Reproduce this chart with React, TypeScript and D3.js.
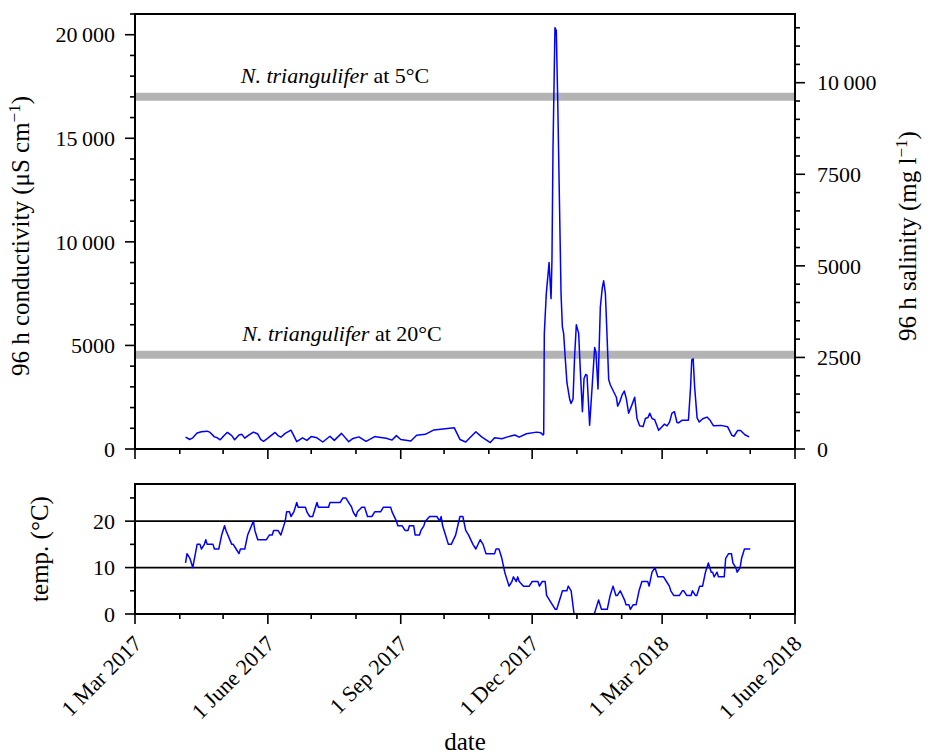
import React from "react";
import * as d3 from "d3";

// ---- data ----
const condData: [string, number][] = [
  ["2017-04-05", 570], ["2017-04-08", 460], ["2017-04-10", 540], ["2017-04-13", 770],
  ["2017-04-16", 830], ["2017-04-20", 860], ["2017-04-22", 800], ["2017-04-25", 585],
  ["2017-04-27", 540], ["2017-04-29", 446], ["2017-05-02", 677], ["2017-05-04", 800],
  ["2017-05-07", 646], ["2017-05-09", 446], ["2017-05-12", 677], ["2017-05-14", 708],
  ["2017-05-16", 523], ["2017-05-19", 677], ["2017-05-22", 815], ["2017-05-25", 723],
  ["2017-05-27", 461], ["2017-05-29", 370], ["2017-06-01", 523], ["2017-06-06", 800],
  ["2017-06-08", 646], ["2017-06-10", 570], ["2017-06-13", 754], ["2017-06-17", 908],
  ["2017-06-21", 354], ["2017-06-25", 538], ["2017-06-28", 415], ["2017-07-01", 600],
  ["2017-07-05", 538], ["2017-07-09", 338], ["2017-07-14", 615], ["2017-07-17", 415],
  ["2017-07-22", 754], ["2017-07-27", 354], ["2017-07-30", 508], ["2017-08-03", 585],
  ["2017-08-08", 370], ["2017-08-14", 600], ["2017-08-17", 570], ["2017-08-22", 523],
  ["2017-08-26", 430], ["2017-08-29", 646], ["2017-09-01", 461], ["2017-09-08", 385],
  ["2017-09-12", 661], ["2017-09-18", 708], ["2017-09-24", 923], ["2017-10-08", 1030],
  ["2017-10-12", 461], ["2017-10-16", 338], ["2017-10-23", 830], ["2017-10-27", 585],
  ["2017-11-02", 308], ["2017-11-05", 538], ["2017-11-10", 492], ["2017-11-14", 585],
  ["2017-11-19", 677], ["2017-11-22", 570], ["2017-11-27", 738], ["2017-12-04", 815],
  ["2017-12-07", 780], ["2017-12-08T12", 680], ["2017-12-09T00", 720],
  ["2017-12-09T10", 5580], ["2017-12-10T19", 7500], ["2017-12-12T17", 9000],
  ["2017-12-14T02", 7260], ["2017-12-14T17", 9100], ["2017-12-15T10", 14400],
  ["2017-12-16T19", 20340], ["2017-12-17T17", 20200], ["2017-12-18T17", 16800],
  ["2017-12-20T02", 11200], ["2017-12-21T00", 7500], ["2017-12-21T22", 5900],
  ["2017-12-22T19", 5580], ["2017-12-24T00", 4300], ["2017-12-25T02", 3200],
  ["2017-12-27T00", 2400], ["2017-12-27T22", 2200], ["2017-12-29T07", 2400],
  ["2017-12-30T10", 4500], ["2017-12-31T14", 6000], ["2018-01-02T05", 5580],
  ["2018-01-03T10", 3700], ["2018-01-04T19", 1800], ["2018-01-05T22", 3400],
  ["2018-01-07T02", 3600], ["2018-01-08T00", 3550], ["2018-01-09T19", 1150],
  ["2018-01-11T17", 3200], ["2018-01-13T07", 4900], ["2018-01-14T05", 4650],
  ["2018-01-15T14", 2900], ["2018-01-17T05", 6850], ["2018-01-18T14", 7800],
  ["2018-01-19T12", 8120], ["2018-01-20T17", 7500], ["2018-01-21T19", 5580],
  ["2018-01-23T00", 3350], ["2018-01-24T02", 3100], ["2018-01-26T12", 2750],
  ["2018-01-28T07", 2500], ["2018-01-29T05", 2070], ["2018-01-30T14", 2260],
  ["2018-02-01T05", 2600], ["2018-02-02T19", 2800], ["2018-02-04T05", 2430],
  ["2018-02-05T19", 1730], ["2018-02-08T02", 2130], ["2018-02-10T00", 2500],
  ["2018-02-11T14", 1470], ["2018-02-13T10", 1120], ["2018-02-15T19", 1080],
  ["2018-02-17T10", 1470], ["2018-02-19T05", 1520], ["2018-02-20T10", 1730],
  ["2018-02-22T00", 1470], ["2018-02-23T19", 1420], ["2018-02-26T14", 900],
  ["2018-02-28T22", 1080], ["2018-03-02T12", 1200], ["2018-03-04T10", 1120],
  ["2018-03-06T05", 1310], ["2018-03-07T19", 1730], ["2018-03-09T12", 1800],
  ["2018-03-11T07", 1280], ["2018-03-12T07", 1260], ["2018-03-14T17", 1385],
  ["2018-03-19T05", 1385], ["2018-03-20T17", 3000], ["2018-03-21T12", 4300],
  ["2018-03-22T12", 4350], ["2018-03-23T12", 3000], ["2018-03-25T05", 1500],
  ["2018-03-26T17", 1300], ["2018-03-29T02", 1460], ["2018-04-01T02", 1540],
  ["2018-04-03T05", 1385], ["2018-04-05T14", 1120], ["2018-04-10T17", 1140],
  ["2018-04-15T07", 1077], ["2018-04-18T07", 660], ["2018-04-19T19", 615],
  ["2018-04-22T05", 890], ["2018-04-24T07", 890], ["2018-04-27T07", 690],
  ["2018-04-30T07", 585],
];

const tempData: [string, number][] = [
  ["2017-04-05", 11], ["2017-04-06", 13], ["2017-04-08", 12], ["2017-04-10", 10],
  ["2017-04-13", 15], ["2017-04-15", 15], ["2017-04-16", 14], ["2017-04-18", 15],
  ["2017-04-19", 16], ["2017-04-20", 15], ["2017-04-24", 15], ["2017-04-25", 14],
  ["2017-04-28", 14], ["2017-04-30", 17], ["2017-05-02", 19], ["2017-05-03", 18],
  ["2017-05-07", 15], ["2017-05-08", 15], ["2017-05-10", 14], ["2017-05-12", 13],
  ["2017-05-13", 14], ["2017-05-16", 14], ["2017-05-18", 17], ["2017-05-22", 20],
  ["2017-05-23", 18], ["2017-05-25", 16], ["2017-05-31", 16], ["2017-06-02", 17],
  ["2017-06-04", 17], ["2017-06-05", 18], ["2017-06-08", 18], ["2017-06-10", 17],
  ["2017-06-13", 20], ["2017-06-14", 22], ["2017-06-16", 22], ["2017-06-17", 21],
  ["2017-06-19", 22], ["2017-06-21", 24], ["2017-06-22", 23], ["2017-06-27", 23],
  ["2017-06-28", 22], ["2017-06-30", 21], ["2017-07-02", 21], ["2017-07-05", 24],
  ["2017-07-06", 23], ["2017-07-13", 23], ["2017-07-14", 24], ["2017-07-21", 24],
  ["2017-07-23", 25], ["2017-07-25", 25], ["2017-07-27", 24], ["2017-07-29", 23],
  ["2017-07-30", 22], ["2017-08-01", 21], ["2017-08-02", 22], ["2017-08-05", 23],
  ["2017-08-07", 23], ["2017-08-09", 21], ["2017-08-12", 21], ["2017-08-14", 22],
  ["2017-08-18", 22], ["2017-08-20", 23], ["2017-08-25", 23], ["2017-08-26", 22],
  ["2017-08-29", 20], ["2017-08-30", 19], ["2017-09-02", 19], ["2017-09-04", 18],
  ["2017-09-06", 18], ["2017-09-07", 19], ["2017-09-10", 19], ["2017-09-11", 17],
  ["2017-09-14", 17], ["2017-09-15", 18], ["2017-09-17", 19], ["2017-09-18", 20],
  ["2017-09-21", 21], ["2017-09-26", 21], ["2017-09-28", 20], ["2017-09-29", 21],
  ["2017-09-30", 19], ["2017-10-02", 17], ["2017-10-04", 15], ["2017-10-06", 15],
  ["2017-10-09", 17], ["2017-10-12", 21], ["2017-10-14", 21], ["2017-10-16", 18],
  ["2017-10-18", 17], ["2017-10-21", 15], ["2017-10-23", 14], ["2017-10-26", 16],
  ["2017-10-28", 15], ["2017-10-30", 13], ["2017-11-05", 13], ["2017-11-06", 14],
  ["2017-11-08", 14], ["2017-11-10", 12], ["2017-11-12", 9], ["2017-11-15", 6],
  ["2017-11-17", 7], ["2017-11-18", 8], ["2017-11-20", 7], ["2017-11-21", 8],
  ["2017-11-22", 7], ["2017-11-25", 6], ["2017-11-29", 6], ["2017-12-01", 7],
  ["2017-12-05", 7], ["2017-12-06", 6], ["2017-12-08", 7], ["2017-12-10", 7],
  ["2017-12-11", 4], ["2017-12-13", 3], ["2017-12-17", 1], ["2017-12-18", 1],
  ["2017-12-20", 3], ["2017-12-22", 5], ["2017-12-25", 5], ["2017-12-26", 6],
  ["2017-12-28", 5], ["2017-12-30", 0], ["2018-01-13", 0], ["2018-01-14", 1],
  ["2018-01-16", 3], ["2018-01-18", 1], ["2018-01-22", 1], ["2018-01-24", 4],
  ["2018-01-26", 6], ["2018-01-28", 4], ["2018-01-29", 4], ["2018-01-31", 5],
  ["2018-02-03", 3], ["2018-02-04", 2], ["2018-02-06", 2], ["2018-02-07", 1],
  ["2018-02-09", 2], ["2018-02-11", 2], ["2018-02-13", 5], ["2018-02-15", 7],
  ["2018-02-19", 7], ["2018-02-20", 6], ["2018-02-22", 9], ["2018-02-24", 10],
  ["2018-02-26", 8], ["2018-03-02", 8], ["2018-03-04", 7], ["2018-03-06", 6],
  ["2018-03-07", 5], ["2018-03-09", 4], ["2018-03-13", 4], ["2018-03-15", 5],
  ["2018-03-16", 5], ["2018-03-18", 4], ["2018-03-21", 4], ["2018-03-22", 5],
  ["2018-03-24", 4], ["2018-03-25", 4], ["2018-03-27", 6], ["2018-03-29", 6],
  ["2018-03-31", 9], ["2018-04-02", 11], ["2018-04-04", 9], ["2018-04-05", 9],
  ["2018-04-06", 8], ["2018-04-08", 9], ["2018-04-09", 8], ["2018-04-13", 8],
  ["2018-04-14", 12], ["2018-04-16", 13], ["2018-04-18", 13], ["2018-04-19", 11],
  ["2018-04-21", 10], ["2018-04-22", 9], ["2018-04-24", 10], ["2018-04-25", 12],
  ["2018-04-27", 14], ["2018-05-01", 14],
];

const thresholdValues = [17000, 4550];
const thresholdTemps = ["5°C", "20°C"];
const xDomain = ["2017-03-01", "2018-06-01"];
const xMajorTicks = ["2017-03-01", "2017-06-01", "2017-09-01", "2017-12-01", "2018-03-01", "2018-06-01"];
const xTickLabels = ["1 Mar 2017", "1 June 2017", "1 Sep 2017", "1 Dec 2017", "1 Mar 2018", "1 June 2018"];
const condTicks = [0, 5000, 10000, 15000, 20000];
const salTicks = [0, 2500, 5000, 7500, 10000];
const tempTicks = [0, 10, 20];
const tempGrid = [10, 20];
const condMax = 21000;
const salPerCond = 0.5655;
const tempMax = 28;

const FONT = "'Liberation Serif', 'Times New Roman', serif";

function parseDate(s: string): Date {
  const [d, h] = s.split("T");
  const [Y, M, D] = d.split("-").map(Number);
  return new Date(Y, M - 1, D, h ? Number(h) : 0);
}

function fmt(v: number): string {
  if (v >= 10000) {
    const s = String(v);
    return s.slice(0, s.length - 3) + "\u2009" + s.slice(s.length - 3);
  }
  return String(v);
}

export default function App() {
  const W = 930, H = 754;
  const L = 135, R = 795;
  const topT = 14, topB = 449;
  const botT = 484, botB = 614;

  const x = d3.scaleTime().domain(xDomain.map(parseDate)).range([L, R]);
  const yC = d3.scaleLinear().domain([0, condMax]).range([topB, topT]);
  const yS = d3.scaleLinear().domain([0, condMax * salPerCond]).range([topB, topT]);
  const yT = d3.scaleLinear().domain([0, tempMax]).range([botB, botT]);

  const condLine = d3.line<[string, number]>()
    .x((d) => x(parseDate(d[0])))
    .y((d) => yC(d[1]));
  const tempLine = d3.line<[string, number]>()
    .x((d) => x(parseDate(d[0])))
    .y((d) => yT(d[1]));

  const [d0, d1] = x.domain();
  const months = d3.timeMonth.range(d0, d3.timeDay.offset(d1, 1));
  const majorSet = new Set(xMajorTicks.map((s) => parseDate(s).getTime()));
  const minorMonths = months.filter((m) => !majorSet.has(m.getTime()));

  const condMinor = d3.range(0, condMax + 1, 1000).filter((v) => v % 5000 !== 0);
  const salMinor = d3.range(0, condMax * salPerCond, 500).filter((v) => v % 2500 !== 0);
  const tempMinor = [5, 15, 25];

  const stroke = "#000";
  const axisW = 2;
  const tickW = 1.6;
  const fs = 22;
  const tfs = 25;

  const xTicks = (yBase: number) => (
    <g>
      {xMajorTicks.map((s) => (
        <line key={s} x1={x(parseDate(s))} x2={x(parseDate(s))} y1={yBase} y2={yBase + 10} stroke={stroke} strokeWidth={tickW} />
      ))}
      {minorMonths.map((m) => (
        <line key={m.getTime()} x1={x(m)} x2={x(m)} y1={yBase} y2={yBase + 5} stroke={stroke} strokeWidth={tickW} />
      ))}
    </g>
  );

  return (
    <svg width={W} height={H} style={{ position: "absolute", left: 0, top: 0, display: "block" }} fontFamily={FONT}>
      <rect x={0} y={0} width={W} height={H} fill="#fff" />
      <defs>
        <clipPath id="clipTop"><rect x={L} y={topT} width={R - L} height={topB - topT} /></clipPath>
        <clipPath id="clipBot"><rect x={L} y={botT} width={R - L} height={botB - botT} /></clipPath>
      </defs>

      {/* threshold bands */}
      {thresholdValues.map((v) => (
        <line key={v} x1={L} x2={R} y1={yC(v)} y2={yC(v)} stroke="#b3b3b3" strokeWidth={8} />
      ))}
      {thresholdValues.map((v, i) => (
        <text key={"t" + v} x={i === 0 ? 335 : 342} y={yC(v) - 14} fontSize={fs} textAnchor="middle" fill="#000">
          <tspan fontStyle="italic">N. triangulifer</tspan>
          <tspan> at {thresholdTemps[i]}</tspan>
        </text>
      ))}

      {/* data */}
      <path d={condLine(condData) || ""} fill="none" stroke="#0000ff" strokeWidth={1.5} clipPath="url(#clipTop)" strokeLinejoin="round" />
      <g clipPath="url(#clipBot)">
        {tempGrid.map((v) => (
          <line key={v} x1={L} x2={R} y1={yT(v)} y2={yT(v)} stroke="#000" strokeWidth={1.8} />
        ))}
        <path d={tempLine(tempData) || ""} fill="none" stroke="#0000ff" strokeWidth={1.5} strokeLinejoin="round" />
      </g>

      {/* top panel frame */}
      <rect x={L} y={topT} width={R - L} height={topB - topT} fill="none" stroke={stroke} strokeWidth={axisW} />
      {condTicks.map((v) => (
        <g key={v}>
          <line x1={L - 10} x2={L} y1={yC(v)} y2={yC(v)} stroke={stroke} strokeWidth={tickW} />
          <text x={L - 20} y={yC(v)} dy="0.35em" fontSize={fs} textAnchor="end">{fmt(v)}</text>
        </g>
      ))}
      {condMinor.map((v) => (
        <line key={v} x1={L - 5} x2={L} y1={yC(v)} y2={yC(v)} stroke={stroke} strokeWidth={tickW} />
      ))}
      {salTicks.map((v) => (
        <g key={v}>
          <line x1={R} x2={R + 10} y1={yS(v)} y2={yS(v)} stroke={stroke} strokeWidth={tickW} />
          <text x={R + 22} y={yS(v)} dy="0.35em" fontSize={fs} textAnchor="start">{fmt(v)}</text>
        </g>
      ))}
      {salMinor.map((v) => (
        <line key={v} x1={R} x2={R + 5} y1={yS(v)} y2={yS(v)} stroke={stroke} strokeWidth={tickW} />
      ))}
      {xTicks(topB)}

      {/* bottom panel frame */}
      <rect x={L} y={botT} width={R - L} height={botB - botT} fill="none" stroke={stroke} strokeWidth={axisW} />
      {tempTicks.map((v) => (
        <g key={v}>
          <line x1={L - 10} x2={L} y1={yT(v)} y2={yT(v)} stroke={stroke} strokeWidth={tickW} />
          <text x={L - 20} y={yT(v)} dy="0.35em" fontSize={fs} textAnchor="end">{v}</text>
        </g>
      ))}
      {tempMinor.map((v) => (
        <line key={v} x1={L - 5} x2={L} y1={yT(v)} y2={yT(v)} stroke={stroke} strokeWidth={tickW} />
      ))}
      {xTicks(botB)}
      {xMajorTicks.map((s, i) => (
        <text key={s} transform={`translate(${x(parseDate(s)) + 8},${botB + 31}) rotate(-45)`} fontSize={fs} textAnchor="end">
          {xTickLabels[i]}
        </text>
      ))}

      {/* axis titles */}
      <text transform={`translate(29,236) rotate(-90)`} fontSize={tfs} textAnchor="middle">
        96 h conductivity (μS cm<tspan dy={-9} fontSize={17}>−1</tspan><tspan dy={9}>)</tspan>
      </text>
      <text transform={`translate(916,236) rotate(-90)`} fontSize={tfs} textAnchor="middle">
        96 h salinity (mg l<tspan dy={-9} fontSize={17}>−1</tspan><tspan dy={9}>)</tspan>
      </text>
      <text transform={`translate(48,${(botT + botB) / 2}) rotate(-90)`} fontSize={tfs} textAnchor="middle">
        temp. (°C)
      </text>
      <text x={(L + R) / 2} y={750} fontSize={tfs} textAnchor="middle">date</text>
    </svg>
  );
}
